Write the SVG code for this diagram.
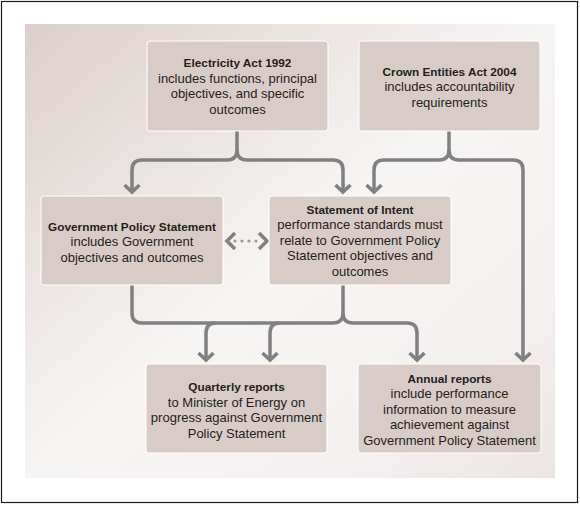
<svg xmlns="http://www.w3.org/2000/svg" width="580" height="505" viewBox="0 0 580 505">
  <defs>
    <linearGradient id="bg" x1="0" y1="0" x2="1" y2="1">
      <stop offset="0" stop-color="#dacfcb"/>
      <stop offset="0.5" stop-color="#f7f5f4"/>
      <stop offset="0.8" stop-color="#f4f0ef"/>
      <stop offset="1" stop-color="#ebe4e2"/>
    </linearGradient>
    <marker id="arr" markerUnits="userSpaceOnUse" viewBox="-12 -12 24 24" markerWidth="24" markerHeight="24" refX="0" refY="0" orient="auto" overflow="visible">
      <path d="M-7,-7.5 L0,0 L-7,7.5" fill="none" stroke="#808081" stroke-width="3.5" stroke-linejoin="miter"/>
    </marker>
    <style>
      .box { fill: #d8ccc8; stroke: #ffffff; stroke-width: 1; }
      .t { font-family: "Liberation Sans", Arial, sans-serif; font-size: 13px; fill: #231f20; text-anchor: middle; }
      .b { font-weight: bold; font-size: 11.8px; }
      .c { fill: none; stroke: #808081; stroke-width: 3.5; }
    </style>
  </defs>
  <rect x="1.5" y="1.5" width="576" height="501" fill="#ffffff" stroke="#1a1a1a" stroke-width="1.2"/>
  <rect x="25" y="24" width="530" height="454" fill="url(#bg)"/>

  <g id="connectors">
    <path class="c" d="M237,131 V150 Q237,160 227,160 H142 Q132,160 132,170 V192" marker-end="url(#arr)"/>
    <path class="c" d="M237,150 Q237,160 247,160 H333 Q343,160 343,170 V192" marker-end="url(#arr)"/>
    <path class="c" d="M449,131 V150 Q449,160 439,160 H384 Q374,160 374,170 V192" marker-end="url(#arr)"/>
    <path class="c" d="M449,150 Q449,160 459,160 H513 Q523,160 523,170 V360" marker-end="url(#arr)"/>
    <path class="c" d="M132,285 V313 Q132,323 142,323 H333 Q343,323 343,313 V285"/>
    <path class="c" d="M216,323 Q206,323 206,333 V360" marker-end="url(#arr)"/>
    <path class="c" d="M280,323 Q270,323 270,333 V360" marker-end="url(#arr)"/>
    <path class="c" d="M343,313 Q343,323 353,323 H407 Q417,323 417,333 V360" marker-end="url(#arr)"/>
    <g id="dotted-link">
      <path d="M235,233 L227,241 L235,249" fill="none" stroke="#808081" stroke-width="3.5"/>
      <path d="M259,233 L267,241 L259,249" fill="none" stroke="#808081" stroke-width="3.5"/>
      <g fill="#9a9a9a">
        <circle cx="235" cy="241" r="1.6"/>
        <circle cx="242" cy="241" r="1.6"/>
        <circle cx="249" cy="241" r="1.6"/>
        <circle cx="256" cy="241" r="1.6"/>
      </g>
    </g>
  </g>

  <g id="electricity-act">
    <rect class="box" x="147" y="41" width="181" height="90" rx="3"/>
    <text class="t b" x="237.5" y="67">Electricity Act 1992</text>
    <text class="t" x="237.5" y="82.5">includes functions, principal</text>
    <text class="t" x="237.5" y="98">objectives, and specific</text>
    <text class="t" x="237.5" y="113.5">outcomes</text>
  </g>

  <g id="crown-entities-act">
    <rect class="box" x="359" y="41" width="181" height="90" rx="3"/>
    <text class="t b" x="449.5" y="75.5">Crown Entities Act 2004</text>
    <text class="t" x="449.5" y="91">includes accountability</text>
    <text class="t" x="449.5" y="106.5">requirements</text>
  </g>

  <g id="government-policy-statement">
    <rect class="box" x="41" y="196" width="182" height="89" rx="3"/>
    <text class="t b" x="132" y="230.5">Government Policy Statement</text>
    <text class="t" x="132" y="246">includes Government</text>
    <text class="t" x="132" y="261.5">objectives and outcomes</text>
  </g>

  <g id="statement-of-intent">
    <rect class="box" x="269" y="196" width="182" height="89" rx="3"/>
    <text class="t b" x="360" y="213.5">Statement of Intent</text>
    <text class="t" x="360" y="229">performance standards must</text>
    <text class="t" x="360" y="244.5">relate to Government Policy</text>
    <text class="t" x="360" y="260">Statement objectives and</text>
    <text class="t" x="360" y="275.5">outcomes</text>
  </g>

  <g id="quarterly-reports">
    <rect class="box" x="146" y="364" width="181" height="89" rx="3"/>
    <text class="t b" x="236.5" y="391">Quarterly reports</text>
    <text class="t" x="236.5" y="406.5">to Minister of Energy on</text>
    <text class="t" x="236.5" y="422">progress against Government</text>
    <text class="t" x="236.5" y="437.5">Policy Statement</text>
  </g>

  <g id="annual-reports">
    <rect class="box" x="358" y="364" width="183" height="89" rx="3"/>
    <text class="t b" x="449.5" y="382.5">Annual reports</text>
    <text class="t" x="449.5" y="398">include performance</text>
    <text class="t" x="449.5" y="413.5">information to measure</text>
    <text class="t" x="449.5" y="429">achievement against</text>
    <text class="t" x="449.5" y="444.5">Government Policy Statement</text>
  </g>
</svg>
